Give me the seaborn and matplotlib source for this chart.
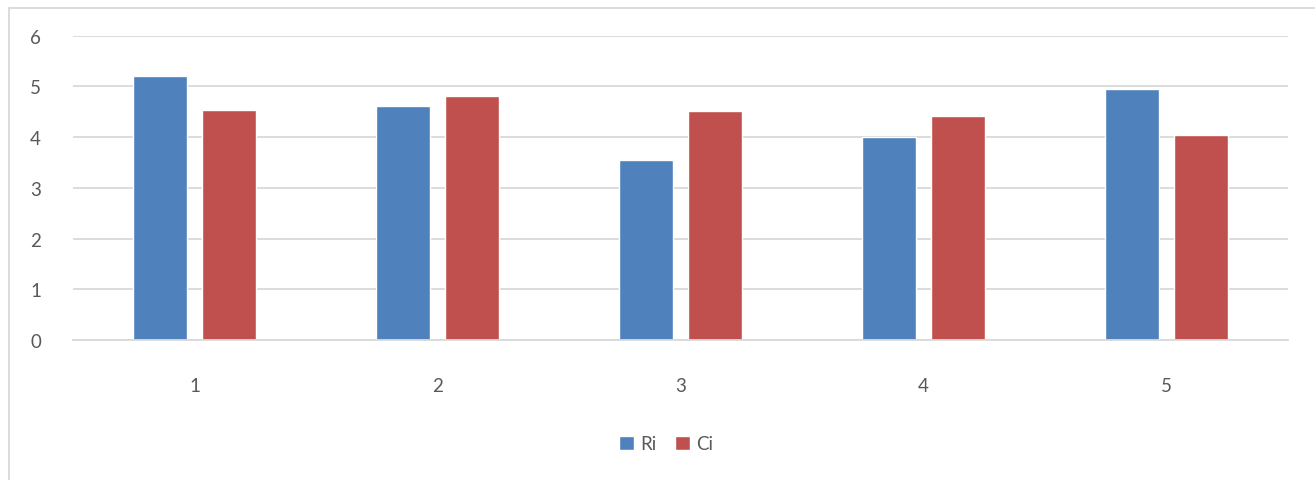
import matplotlib
matplotlib.use("Agg")
import matplotlib.pyplot as plt
from matplotlib.lines import Line2D
import pandas as pd
import seaborn as sns

# Values per trial
categories = ["1", "2", "3", "4", "5"]
ri_values = [5.21, 4.62, 3.55, 4.01, 4.95]
ci_values = [4.53, 4.82, 4.51, 4.41, 4.05]
series_names = ["Ri", "Ci"]
y_ticks = [0, 1, 2, 3, 4, 5, 6]

df = pd.DataFrame({
    "cat": categories * 2,
    "value": ri_values + ci_values,
    "series": [series_names[0]] * len(categories) + [series_names[1]] * len(categories),
})

sns.set_theme(style="white")
plt.rcParams["font.family"] = ["Lato", "DejaVu Sans"]

text_color = "#595959"
grid_color = "#D9D9D9"
palette = {"Ri": "#4F81BD", "Ci": "#C0504D"}

fig = plt.figure(figsize=(13.15, 4.81), dpi=100)
ax = fig.add_axes([73 / 1315, 1 - 341 / 481, 1215 / 1315, (341 - 36.7) / 481])

sns.barplot(data=df, x="cat", y="value", hue="series", order=categories,
            hue_order=series_names, palette=palette, width=0.57, gap=0.21,
            saturation=1, ax=ax, legend=True)

ax.set_ylim(0, 6)
ax.set_yticks(y_ticks)
ax.set_xlim(-0.5, len(categories) - 0.5)
ax.yaxis.grid(True, color=grid_color, linewidth=1.3)
ax.set_axisbelow(True)
for side in ["top", "right", "left"]:
    ax.spines[side].set_visible(False)
ax.spines["bottom"].set_color(grid_color)
ax.spines["bottom"].set_linewidth(1.3)
ax.tick_params(axis="both", length=0, labelsize=13.5, labelcolor=text_color)
ax.tick_params(axis="x", pad=27)
ax.tick_params(axis="y", pad=23)
ax.set_xlabel("")
ax.set_ylabel("")

handles, labels = ax.get_legend_handles_labels()
ax.get_legend().remove()
fig.legend(handles, labels, loc="center", bbox_to_anchor=(666 / 1315, 1 - 445 / 481),
           ncol=2, frameon=False, fontsize=13.5, labelcolor=text_color,
           handlelength=0.8, handleheight=0.8, handletextpad=0.3, columnspacing=1.0)

# Chart area border
fig.add_artist(Line2D([8.5 / 1315, 8.5 / 1315], [0, 1 - 8.5 / 481],
                      transform=fig.transFigure, color=grid_color, linewidth=1.3))
fig.add_artist(Line2D([8.5 / 1315, 1], [1 - 8.5 / 481, 1 - 8.5 / 481],
                      transform=fig.transFigure, color=grid_color, linewidth=1.3))

fig.savefig("out.png", dpi=100, facecolor="white")
